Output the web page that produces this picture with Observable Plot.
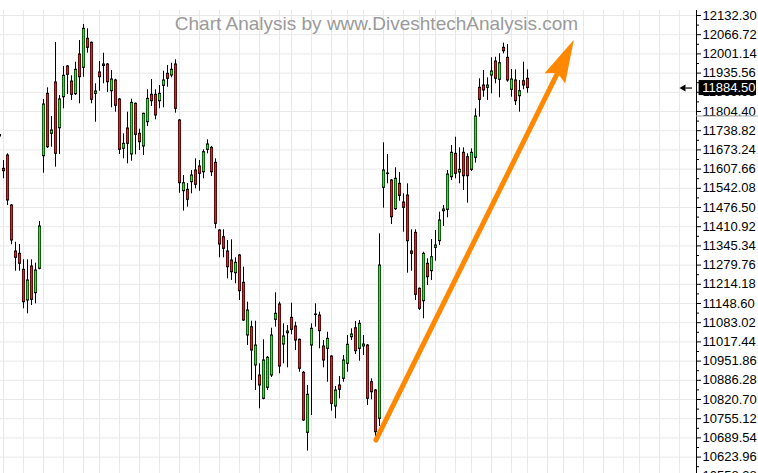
<!DOCTYPE html>
<html>
<head>
<meta charset="utf-8">
<script src="https://cdn.jsdelivr.net/npm/d3@7"></script>
<script src="https://cdn.jsdelivr.net/npm/@observablehq/plot@0.6"></script>
<style>
  html, body { margin: 0; padding: 0; background: #fff; }
  #chart svg { display: block; }
</style>
</head>
<body>
<div id="chart"></div>
<script>
// Daily OHLC candles, oldest first (session index = array position)
const opens = [
  11724.1, 11608.7, 11654.1, 11483.3, 11326.2, 11318.3, 11263.7, 11158.8, 11275.0, 11183.8,
  11267.1, 11651.7, 11864.8, 11728.2, 11903.4, 11747.3, 11853.2, 11958.1, 11906.8, 11863.5,
  11999.1, 11953.6, 12052.7, 12039.0, 11864.8, 11937.6, 11964.9, 11964.9, 11873.7, 11910.3,
  11845.4, 11677.0, 11746.3, 11657.5, 11830.7, 11728.2, 11684.8, 11767.8, 11861.4, 11861.4,
  11839.5, 11892.1, 11933.1, 11927.3, 11964.9, 11773.6, 11532.1, 11536.9, 11562.9, 11602.9,
  11616.5, 11597.0, 11673.5, 11680.4, 11629.1, 11397.9, 11375.0, 11326.2, 11295.4, 11252.1,
  11312.5, 11219.3, 11039.3, 11067.6, 10936.8, 10902.6, 10823.0, 10860.6, 10902.6, 11092.9,
  11145.2, 11008.5, 11047.1, 11099.7, 11070.0, 11024.6, 10911.9, 10706.9, 11005.1, 11109.3,
  11107.6, 11001.7, 10993.8, 10967.5, 10796.8, 10868.5, 10891.4, 10942.6, 11033.5, 11064.2,
  10993.8, 11001.7, 11005.1, 10879.8, 10851.4, 10754.7, 11543.8, 11592.6, 11568.7, 11470.7,
  11557.4, 11493.5, 11517.5, 11326.2, 11390.0, 11198.8, 11156.4, 11284.2, 11258.9, 11338.8,
  11361.4, 11463.8, 11468.6, 11580.0, 11659.9, 11596.0, 11663.3, 11648.3, 11605.2, 11646.2,
  11885.3, 11893.2, 11885.3, 11927.3, 11975.1, 11912.6, 12021.9, 11987.8, 11878.5, 11910.3,
  11856.6, 11907.9, 11916.1
];
const highs = [
  11729.2, 11637.0, 11659.9, 11486.7, 11357.9, 11350.1, 11297.8, 11297.8, 11297.8, 11286.2,
  11428.7, 11845.4, 11885.3, 11787.3, 12040.0, 11859.0, 11958.1, 11961.5, 11926.3, 11972.8,
  12046.9, 12101.5, 12086.8, 12041.8, 11899.0, 11975.1, 12003.5, 11968.3, 11944.4, 11914.7,
  11848.8, 11728.2, 11802.0, 11846.4, 11833.4, 11743.9, 11798.6, 11878.5, 11913.7, 11878.5,
  11893.2, 11942.0, 11961.5, 11969.3, 11981.0, 11777.0, 11585.8, 11558.5, 11602.9, 11642.8,
  11637.0, 11673.5, 11707.7, 11684.8, 11642.8, 11400.3, 11400.3, 11363.8, 11366.1, 11304.7,
  11315.9, 11272.6, 11153.0, 11088.1, 11088.1, 10942.6, 11024.6, 10967.5, 11064.2, 11185.1,
  11153.0, 11079.2, 11073.4, 11149.6, 11084.7, 11027.3, 10916.3, 10868.5, 11079.2, 11147.5,
  11118.9, 11022.2, 11050.5, 10970.0, 10865.1, 10899.2, 10971.0, 11039.3, 11062.2, 11087.1,
  11090.5, 11039.3, 11008.5, 10891.4, 10854.8, 11386.6, 11697.5, 11657.5, 11572.1, 11612.1,
  11596.0, 11523.3, 11557.4, 11400.3, 11400.3, 11201.5, 11323.8, 11301.2, 11367.2, 11397.9,
  11460.4, 11483.3, 11602.9, 11688.2, 11716.6, 11680.4, 11680.4, 11659.9, 11677.0, 11813.6,
  11916.1, 11944.4, 11919.5, 11987.8, 11989.8, 12001.4, 12037.7, 12033.2, 11947.8, 11946.8,
  11910.3, 11972.8, 11946.8
];
const lows = [
  11713.9, 11574.5, 11483.3, 11349.1, 11258.9, 11258.9, 11130.5, 11113.4, 11141.7, 11147.5,
  11263.7, 11593.6, 11678.0, 11682.4, 11614.1, 11657.5, 11813.6, 11862.4, 11842.0, 11859.0,
  11830.7, 11921.5, 12003.5, 11830.7, 11767.8, 11873.7, 11899.0, 11869.3, 11817.0, 11802.0,
  11657.5, 11642.8, 11625.7, 11634.6, 11656.5, 11671.2, 11654.1, 11753.1, 11821.4, 11776.0,
  11813.6, 11817.0, 11887.4, 11919.5, 11798.6, 11525.3, 11463.8, 11477.5, 11523.3, 11540.3,
  11532.1, 11574.5, 11659.9, 11582.4, 11403.7, 11304.7, 11304.7, 11232.9, 11227.1, 11215.9,
  11158.8, 11087.1, 11005.1, 10885.6, 10851.4, 10788.9, 10819.6, 10851.4, 10895.9, 11067.6,
  10908.5, 10942.6, 10928.9, 11041.7, 10988.0, 10913.9, 10745.5, 10644.1, 10766.0, 11067.6,
  10993.8, 10928.9, 10879.8, 10780.7, 10754.7, 10823.0, 10879.8, 10913.9, 11022.2, 10974.4,
  10951.5, 10971.0, 10800.2, 10819.6, 10677.0, 10728.5, 11474.1, 11557.4, 11418.4, 11466.2,
  11498.0, 11392.1, 11252.1, 11258.9, 11158.8, 11124.7, 11096.3, 11210.1, 11227.1, 11293.1,
  11346.7, 11411.6, 11441.3, 11568.7, 11574.5, 11557.4, 11534.5, 11491.2, 11599.4, 11627.8,
  11784.9, 11853.2, 11842.0, 11864.8, 11899.0, 11851.2, 12001.4, 11904.4, 11853.2, 11824.9,
  11802.0, 11878.5, 11866.9
];
const closes = [
  11719.0, 11600.5, 11500.4, 11363.8, 11304.7, 11284.2, 11153.0, 11227.1, 11161.2, 11261.3,
  11411.6, 11828.3, 11682.4, 11739.5, 11659.9, 11845.4, 11926.3, 11929.7, 11861.4, 11946.8,
  11921.5, 12086.8, 12021.9, 11844.3, 11872.7, 11921.5, 11959.8, 11904.4, 11913.7, 11823.8,
  11673.5, 11694.0, 11694.0, 11834.1, 11724.8, 11699.5, 11796.5, 11847.7, 11839.5, 11790.7,
  11864.8, 11910.3, 11916.1, 11946.8, 11813.6, 11559.5, 11559.5, 11502.8, 11585.8, 11554.0,
  11591.6, 11665.4, 11691.7, 11597.0, 11420.8, 11350.1, 11335.4, 11272.6, 11255.5, 11287.6,
  11190.6, 11090.5, 11124.7, 10988.0, 11005.1, 10868.5, 10953.9, 10963.1, 11039.3, 11113.4,
  10933.4, 11035.9, 11052.9, 11058.7, 11022.2, 10925.5, 10749.0, 10836.7, 11062.2, 11111.0,
  11054.0, 10953.9, 11028.0, 10806.0, 10851.4, 10853.8, 10953.9, 11007.5, 11042.7, 10985.6,
  11079.2, 11008.5, 10823.0, 10845.6, 10709.0, 11278.4, 11602.9, 11590.6, 11443.3, 11574.5,
  11516.4, 11475.4, 11361.4, 11318.3, 11178.3, 11130.5, 11318.3, 11238.4, 11306.7, 11346.7,
  11432.1, 11469.6, 11589.2, 11663.3, 11591.6, 11605.2, 11583.4, 11583.4, 11663.3, 11787.3,
  11844.3, 11876.1, 11893.2, 11941.0, 11916.1, 11969.3, 12010.3, 11910.3, 11913.7, 11839.5,
  11873.7, 11893.2, 11884.5
];

// Price axis levels (step 65.58)
const priceTicks = [
  12132.30, 12066.72, 12001.14, 11935.56, 11869.98, 11804.40, 11738.82, 11673.24,
  11607.66, 11542.08, 11476.50, 11410.92, 11345.34, 11279.76, 11214.18, 11148.60,
  11083.02, 11017.44, 10951.86, 10886.28, 10820.70, 10755.12, 10689.54, 10623.96, 10558.38
];
// First session of each week (vertical grid), extending into the empty right side
const weekStarts = [
  1, 6, 11, 16, 21, 25, 30, 35, 40, 45, 50, 55, 60, 65, 70, 73, 78, 83, 87, 91,
  96, 101, 105, 109, 114, 118, 123, 128, 132, 137, 141, 146, 151, 156, 160, 165, 170
];
const watermark = "Chart Analysis by www.DiveshtechAnalysis.com";
const lastPrice = 11884.50;
const referenceLevel = 11789.0;
// Trend arrow: tail, neck (where the head begins) and tip, in session / price units
const trendArrow = [{i1: 94.1, p1: 10682.3, i2: 139.4, p2: 11932.8, i3: 143.6, p3: 12049.3}];

const candles = opens.map((o, i) => ({i, o, h: highs[i], l: lows[i], c: closes[i]}));
const minorTicks = priceTicks.map(t => t - 32.79);

const upColor = "#22ee22";
const downColor = "#ee1c1c";
const arrowColor = "#ff8800";
const gridColor = "#e8e8e8";

// Filled, notched arrowhead drawn with its tip at the origin, pointing up
const arrowHead = {
  draw(context, size) {
    const s = Math.sqrt(size / Math.PI);
    context.moveTo(0, 0);
    context.lineTo(11.5 * s, 43 * s);
    context.lineTo(0, 37 * s);
    context.lineTo(-11.5 * s, 43 * s);
    context.closePath();
  }
};

const xMax = 174.25;   // right edge of the candle area, where the price axis sits
// One session is 4px wide; a body is a 3px black block with a coloured core,
// centred on the 1px wick (which Plot draws half a pixel right of the session position).
const bodyColor = d => d.c >= d.o ? upColor : downColor;

const chart = Plot.plot({
  width: 758,
  height: 473,
  marginLeft: 0,
  marginRight: 62,
  marginTop: 10,
  marginBottom: 0,
  style: {
    fontFamily: '"Liberation Sans", Arial, sans-serif',
    fontSize: "13px",
    background: "#fff",
    color: "#000",
    overflow: "visible"
  },
  x: {type: "linear", domain: [0.25, xMax], axis: null},
  y: {domain: [10567.94, 12149.38]},
  marks: [
    // grid
    Plot.ruleY(priceTicks.slice(0, -1), {stroke: gridColor, strokeWidth: 1}),
    Plot.ruleX(weekStarts, {stroke: gridColor, strokeWidth: 1}),
    // watermark title
    Plot.text([watermark], {
      text: d => d, frameAnchor: "top", lineAnchor: "bottom", dy: 19.5, dx: 28,
      fontSize: 19, fill: "#9a9a9a"
    }),
    // candles: wicks, black body outline, coloured body core
    Plot.ruleX(candles, {x: "i", y1: "l", y2: "h", stroke: "#000", strokeWidth: 1, clip: true}),
    Plot.rect(candles, {
      x1: d => d.i - 0.25, x2: d => d.i + 0.5, y1: "o", y2: "c",
      insetTop: -0.5, insetBottom: -0.5, fill: "#000", clip: true
    }),
    Plot.rect(candles, {
      x1: d => d.i - 0.1, x2: d => d.i + 0.35, y1: "o", y2: "c",
      insetTop: 0.6, insetBottom: 0.6, fill: bodyColor, clip: true
    }),
    // trend arrow
    Plot.link(trendArrow, {
      x1: "i1", y1: "p1", x2: "i2", y2: "p2",
      stroke: arrowColor, strokeWidth: 5, strokeLinecap: "round"
    }),
    Plot.dot(trendArrow, {
      x: "i3", y: "p3", symbol: arrowHead, r: 1, rotate: 26.3,
      fill: arrowColor, stroke: "none"
    }),
    // price axis on the right
    Plot.ruleX([xMax], {stroke: "#000", strokeWidth: 1}),
    Plot.axisY(minorTicks, {anchor: "right", tickSize: 2, tickFormat: () => "", label: null}),
    Plot.axisY(priceTicks, {
      anchor: "right", tickSize: 4, tickPadding: 2, label: null,
      tickFormat: d3.format(".2f"), fontSize: 13
    }),
    Plot.ruleY([referenceLevel], {x1: xMax, x2: 189.75, stroke: "#a8a8a8"}),
    // last price marker and box
    Plot.ruleY([lastPrice], {x1: 171.6, x2: 173.25, stroke: "#000", strokeWidth: 1.2}),
    Plot.dot([lastPrice], {x: 171.0, y: d => d, symbol: "triangle", rotate: -90, r: 2.6, fill: "#000", stroke: "none"}),
    Plot.rect([lastPrice], {
      x1: 174.9, x2: 189.25, y1: d => d, y2: d => d,
      insetTop: -7.5, insetBottom: -7.5, fill: "#000"
    }),
    Plot.text([lastPrice], {
      x: 175.7, y: d => d, text: d => d3.format(".2f")(d),
      textAnchor: "start", fill: "#fff", fontSize: 13
    })
  ]
});

document.getElementById("chart").appendChild(chart);
</script>
</body>
</html>
